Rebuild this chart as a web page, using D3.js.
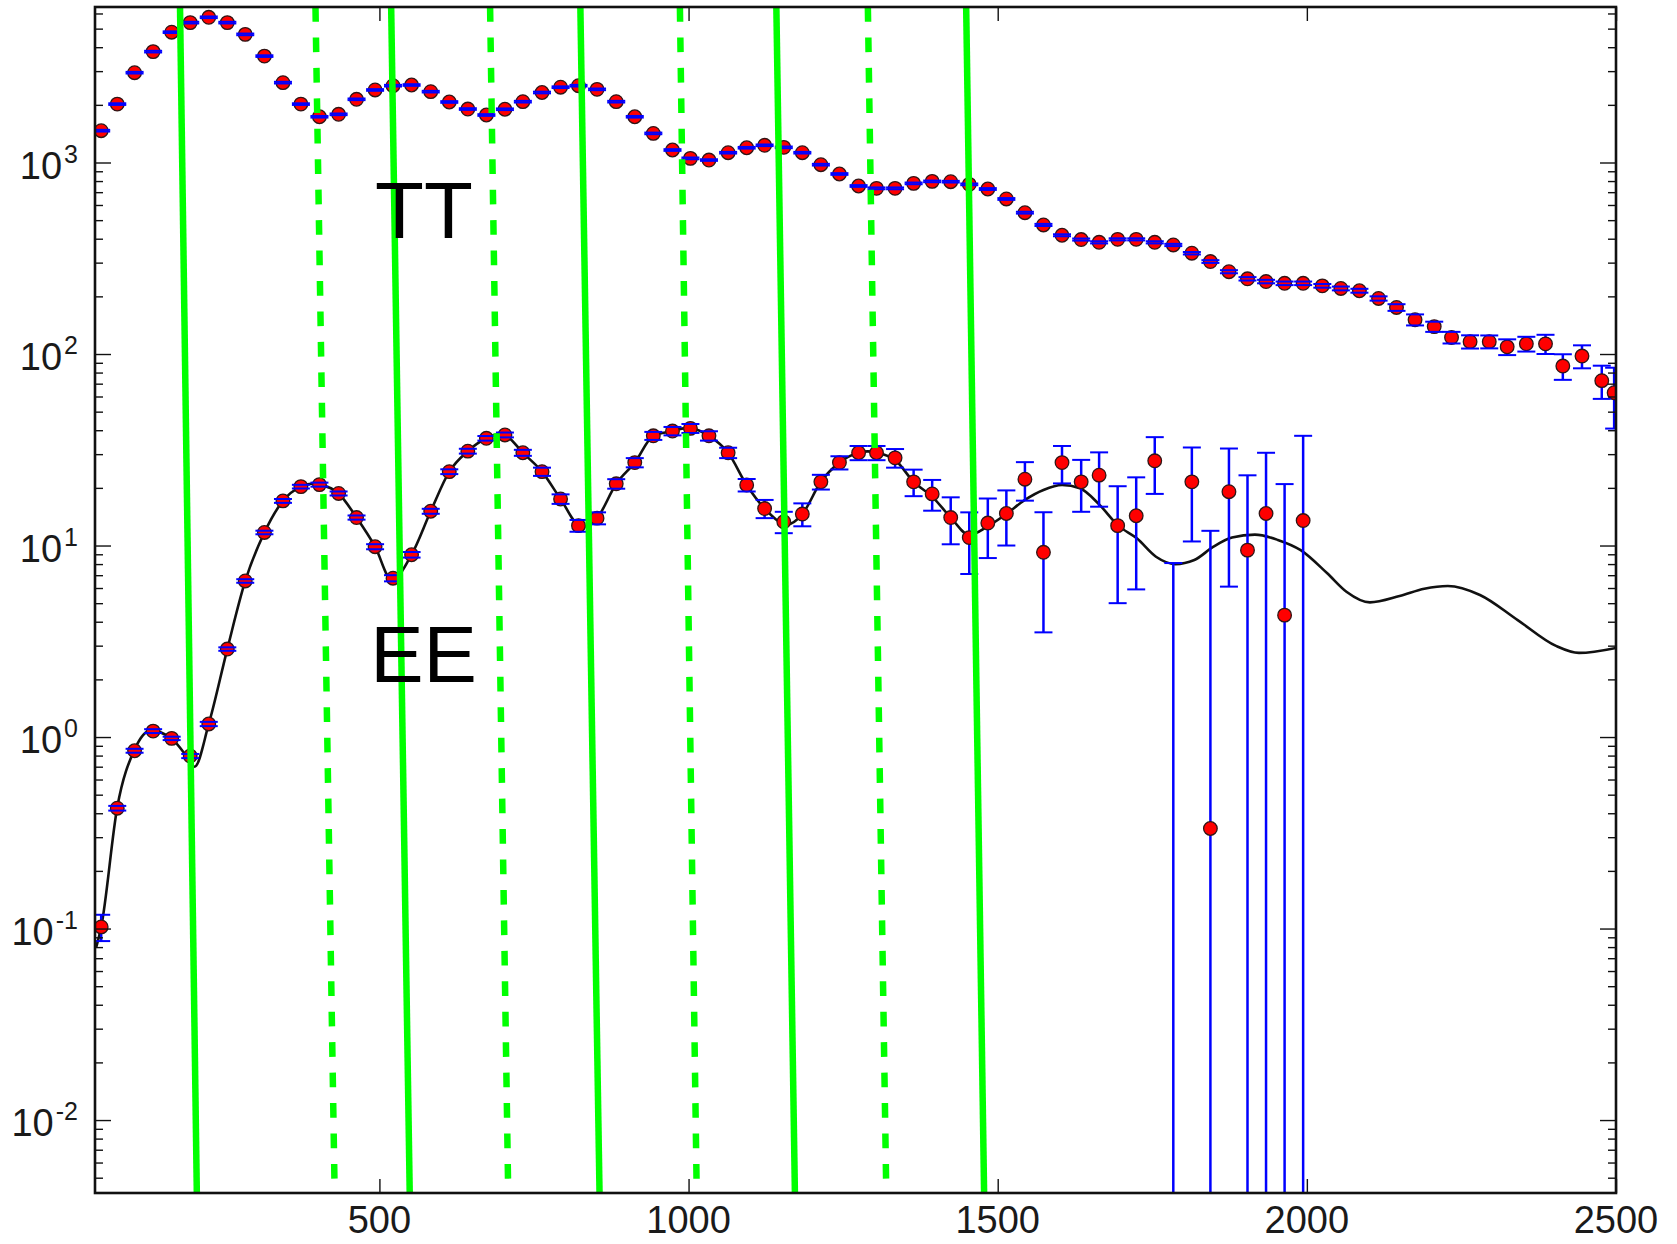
<!DOCTYPE html>
<html>
<head>
<meta charset="utf-8">
<script src="https://cdn.jsdelivr.net/npm/d3@7"></script>
<style>
  html, body { margin: 0; padding: 0; background: #fff; }
  svg { display: block; font-family: "Liberation Sans", Arial, Helvetica, sans-serif; }
</style>
</head>
<body>
<svg id="chart" width="1677" height="1244"></svg>
<script>
// multipole bins shared by the TT and EE band powers
const ells = [50, 76, 104, 134, 164, 194, 224, 254, 283, 314, 344, 373, 403, 434, 463, 493, 522, 552, 583, 613,
  643, 673, 703, 732, 763, 793, 822, 852, 883, 913, 943, 974, 1003, 1033, 1064, 1094, 1123, 1154, 1184, 1214,
  1244, 1275, 1304, 1334, 1364, 1394, 1424, 1454, 1484, 1514, 1544, 1574, 1604, 1635, 1664, 1694, 1724, 1754, 1784, 1814,
  1844, 1874, 1904, 1934, 1964, 1994, 2025, 2055, 2085, 2116, 2145, 2175, 2206, 2234, 2264, 2295, 2324, 2355, 2386, 2414,
  2445, 2477, 2497];

// TT band powers and errors
const ttValues = [1466, 2018, 2944, 3793, 4791, 5376, 5732, 5376, 4667, 3594, 2612, 2018, 1733, 1785, 2138, 2392, 2518, 2539, 2344, 2070,
  1902, 1770, 1897, 2078, 2320, 2473, 2518, 2410, 2078, 1733, 1419, 1162, 1051, 1030, 1125, 1194, 1230, 1200, 1125, 974,
  871, 754, 733, 733, 778, 797, 794, 769, 727, 645, 547, 472, 417, 396, 383, 397, 397, 383, 371, 336,
  304, 269, 247, 239, 234, 234, 227, 220, 214, 195, 175, 151, 139, 122, 116, 116, 109, 113, 113, 86.5,
  97.6, 72.6, 62.8];
const ttErr = [15, 20, 29, 38, 48, 54, 57, 54, 47, 36, 26, 20, 17, 18, 21, 24, 25, 25, 23, 21,
  19, 18, 19, 21, 23, 25, 25, 24, 21, 17, 14, 12, 11, 10, 11, 12, 12, 12, 11, 10,
  9, 8, 8, 8, 8, 8, 8, 8, 8, 7, 6, 6, 5, 5, 5, 5, 5, 5, 5, 5,
  5, 5, 5, 5, 5, 5, 5, 5, 5, 5, 7, 10, 8.5, 8.5, 9.2, 9, 10.3, 10, 13, 13.2,
  13.4, 14.3, 22];

// EE band powers and errors (first 66 bins)
const eeValues = [0.102, 0.425, 0.848, 1.074, 0.984, 0.796, 1.17, 2.88, 6.53, 11.7, 17.1, 20.3, 20.8, 18.7, 14.0, 9.86, 6.75, 8.95, 15.1, 24.3,
  31.1, 36.3, 37.8, 30.5, 24.3, 17.5, 12.7, 13.9, 21.0, 27.1, 37.4, 39.6, 40.9, 37.4, 30.5, 20.7, 15.6, 13.3, 14.6, 21.5,
  27.1, 30.5, 30.5, 28.7, 21.5, 18.6, 14.0, 11.0, 13.1, 14.7, 22.2, 9.22, 27.1, 21.5, 23.3, 12.7, 14.3, 27.7, -5, 21.5,
  0.333, 19.1, 9.46, 14.7, 4.33, 13.5];
const eeErr = [0.016, 0.012, 0.02, 0.025, 0.02, 0.02, 0.03, 0.06, 0.14, 0.25, 0.4, 0.45, 0.5, 0.45, 0.35, 0.3, 0.25, 0.3, 0.45, 0.7,
  0.9, 1.0, 1.1, 1.1, 1.2, 1.0, 0.9, 1.0, 1.2, 1.5, 1.8, 2.0, 2.2, 2.1, 1.9, 1.55, 1.7, 1.7, 2.0, 1.9,
  2.15, 2.6, 2.6, 3.2, 3.4, 3.4, 3.85, 3.9, 4.5, 4.7, 5.05, 5.7, 6.0, 6.5, 7.35, 7.7, 8.4, 9.1, 13.1, 11,
  11.6, 13, 13.8, 15.8, 16.6, 23.9];

// EE model curve
const eeTheoryL = [42, 50, 76, 104, 130, 164, 190, 201, 224, 254, 283, 314, 344, 373, 390, 403, 434, 463, 493, 520,
  552, 583, 613, 643, 673, 695, 703, 732, 763, 793, 827, 852, 883, 913, 943, 974, 995, 1003, 1033, 1064,
  1094, 1123, 1160, 1184, 1214, 1244, 1275, 1290, 1304, 1334, 1364, 1394, 1424, 1454, 1484, 1514, 1544, 1574, 1604, 1633,
  1664, 1695, 1725, 1756, 1787, 1818, 1849, 1879, 1916, 1953, 1990, 2033, 2064, 2102, 2150, 2190, 2228, 2280, 2341, 2403,
  2440, 2500];
const eeTheoryD = [0.08, 0.102, 0.43, 0.86, 1.08, 0.98, 0.78, 0.70, 1.17, 2.88, 6.53, 11.7, 17.1, 20.3, 21.0, 20.8, 18.7, 14.0, 9.86, 6.6,
  8.95, 15.1, 24.3, 31.1, 36.3, 38.2, 37.8, 30.5, 24.3, 17.5, 12.5, 13.9, 21.0, 27.1, 37.4, 39.6, 41.0, 40.9, 37.4, 30.5,
  20.7, 15.6, 12.9, 14.6, 21.5, 27.1, 30.5, 31.0, 30.5, 28.0, 21.5, 18.0, 14.0, 11.35, 12.6, 14.6, 17.3, 19.5, 20.7, 19.9,
  16.4, 12.7, 10.9, 8.74, 8.0, 8.4, 9.86, 11.0, 11.4, 10.7, 9.46, 7.16, 5.74, 5.05, 5.45, 5.95, 6.15, 5.52, 4.08, 2.99,
  2.75, 2.92];

// green marker lines: multipole where each line meets the top and bottom of the frame
const solidTopL = [177.5, 519, 825, 1142, 1449];
const solidBottomL = [204.7, 549, 856, 1172, 1478];
const dashTopL = [396.6, 679, 986, 1290];
const dashBottomL = [427.6, 708.3, 1013.2, 1319.8];

const xTicks = [500, 1000, 1500, 2000, 2500];
const yDecades = [-2, -1, 0, 1, 2, 3];
const spectrumLabels = ["TT", "EE"];
const labelL = [493, 485];
const labelD = [405, 1.94];

const xDomain = [40, 2500];
const yDomain = [0.00416, 6486];

const svg = d3.select("#chart");
const plot = { left: 95, top: 7, right: 1616, bottom: 1193 };

const x = d3.scaleLinear().domain(xDomain).range([plot.left, plot.right]);
const y = d3.scaleLog().domain(yDomain).range([plot.bottom, plot.top]);

svg.append("defs").append("clipPath").attr("id", "clip")
  .append("rect")
  .attr("x", plot.left).attr("y", plot.top)
  .attr("width", plot.right - plot.left).attr("height", plot.bottom - plot.top);

const g = svg.append("g").attr("clip-path", "url(#clip)");

// EE model line
let theory = eeTheoryL.map((l, i) => ({ l: l, d: eeTheoryD[i] }));
g.append("path")
  .datum(theory)
  .attr("fill", "none")
  .attr("stroke", "#111")
  .attr("stroke-width", 2.6)
  .attr("d", d3.line().x(d => x(d.l)).y(d => y(d.d)).curve(d3.curveMonotoneX));

// build point lists
let tt = ttValues.map((v, i) => ({ l: ells[i], v: v, e: ttErr[i] }));
let ee = eeValues.map((v, i) => ({ l: ells[i], v: v, e: eeErr[i] }));
let points = tt.concat(ee);

const capHalf = 9;
const lowY = v => (v > 0 ? y(v) : plot.bottom + 20);

// error bars
g.append("g").selectAll("line")
  .data(points)
  .enter()
  .append("line")
  .attr("x1", d => x(d.l)).attr("x2", d => x(d.l))
  .attr("y1", d => y(d.v + d.e))
  .attr("y2", d => lowY(d.v - d.e))
  .attr("stroke", "#0000ff")
  .attr("stroke-width", 2.5);

// markers
g.append("g").selectAll("circle")
  .data(points.filter(d => d.v > 0))
  .enter()
  .append("circle")
  .attr("cx", d => x(d.l))
  .attr("cy", d => y(d.v))
  .attr("r", 6.8)
  .attr("fill", "#ff0000")
  .attr("stroke", "#301515")
  .attr("stroke-width", 1.3);

// caps drawn over the markers
let caps = [];
points.forEach(d => {
  caps.push({ l: d.l, v: d.v + d.e });
  if (d.v - d.e > 0) caps.push({ l: d.l, v: d.v - d.e });
});
g.append("g").selectAll("line")
  .data(caps)
  .enter()
  .append("line")
  .attr("x1", d => x(d.l) - capHalf).attr("x2", d => x(d.l) + capHalf)
  .attr("y1", d => y(d.v)).attr("y2", d => y(d.v))
  .attr("stroke", "#0000ff")
  .attr("stroke-width", 2);

// green lines
g.append("g").selectAll("line")
  .data(solidTopL.map((t, i) => ({ t: t, b: solidBottomL[i] })))
  .enter()
  .append("line")
  .attr("x1", d => x(d.t)).attr("y1", y(yDomain[1]))
  .attr("x2", d => x(d.b)).attr("y2", y(yDomain[0]))
  .attr("stroke", "#00ff00")
  .attr("stroke-width", 6.5);

g.append("g").selectAll("line")
  .data(dashTopL.map((t, i) => ({ t: t, b: dashBottomL[i] })))
  .enter()
  .append("line")
  .attr("x1", d => x(d.t)).attr("y1", y(yDomain[1]))
  .attr("x2", d => x(d.b)).attr("y2", y(yDomain[0]))
  .attr("stroke", "#00ff00")
  .attr("stroke-width", 6.5)
  .attr("stroke-dasharray", "14.7,15.75");

// spectrum labels
svg.append("g").selectAll("text")
  .data(spectrumLabels)
  .enter()
  .append("text")
  .attr("x", (d, i) => x(labelL[i]))
  .attr("y", (d, i) => y(labelD[i]))
  .attr("font-size", 80)
  .attr("fill", "#000")
  .text(d => d);

// axes: ticks point inwards
let minorTicks = [];
yDecades.concat([-3, 4]).forEach(k => {
  for (let m = 2; m <= 9; m++) {
    let v = m * Math.pow(10, k);
    if (v > yDomain[0] && v < yDomain[1]) minorTicks.push(v);
  }
});
let majorTicks = yDecades.map(k => Math.pow(10, k));

function tickAxis(axis, transform) {
  let a = svg.append("g").attr("transform", transform).call(axis);
  a.select(".domain").remove();
  a.selectAll("line").attr("stroke", "#111").attr("stroke-width", 1.4);
  a.selectAll("text").remove();
}
tickAxis(d3.axisLeft(y).tickValues(minorTicks).tickSize(-8), `translate(${plot.left},0)`);
tickAxis(d3.axisLeft(y).tickValues(majorTicks).tickSize(-16), `translate(${plot.left},0)`);
tickAxis(d3.axisRight(y).tickValues(minorTicks).tickSize(-8), `translate(${plot.right},0)`);
tickAxis(d3.axisRight(y).tickValues(majorTicks).tickSize(-16), `translate(${plot.right},0)`);
tickAxis(d3.axisBottom(x).tickValues(xTicks).tickSize(-14), `translate(0,${plot.bottom})`);
tickAxis(d3.axisTop(x).tickValues(xTicks).tickSize(-14), `translate(0,${plot.top})`);

// frame
svg.append("rect")
  .attr("x", plot.left).attr("y", plot.top)
  .attr("width", plot.right - plot.left).attr("height", plot.bottom - plot.top)
  .attr("fill", "none")
  .attr("stroke", "#111")
  .attr("stroke-width", 2.6);

// x tick labels
svg.append("g").selectAll("text")
  .data(xTicks)
  .enter()
  .append("text")
  .attr("x", d => x(d))
  .attr("y", plot.bottom + 40)
  .attr("text-anchor", "middle")
  .attr("font-size", 38)
  .attr("fill", "#1a1a1a")
  .text(d => d);

// y tick labels 10^k
let ylab = svg.append("g").selectAll("text")
  .data(yDecades)
  .enter()
  .append("text")
  .attr("x", 78)
  .attr("y", d => y(Math.pow(10, d)) + 16)
  .attr("text-anchor", "end")
  .attr("fill", "#1a1a1a");
ylab.append("tspan").attr("font-size", 38).text("10");
ylab.append("tspan").attr("font-size", 25).attr("dx", 2).attr("dy", -16).text(d => d);
</script>
</body>
</html>
